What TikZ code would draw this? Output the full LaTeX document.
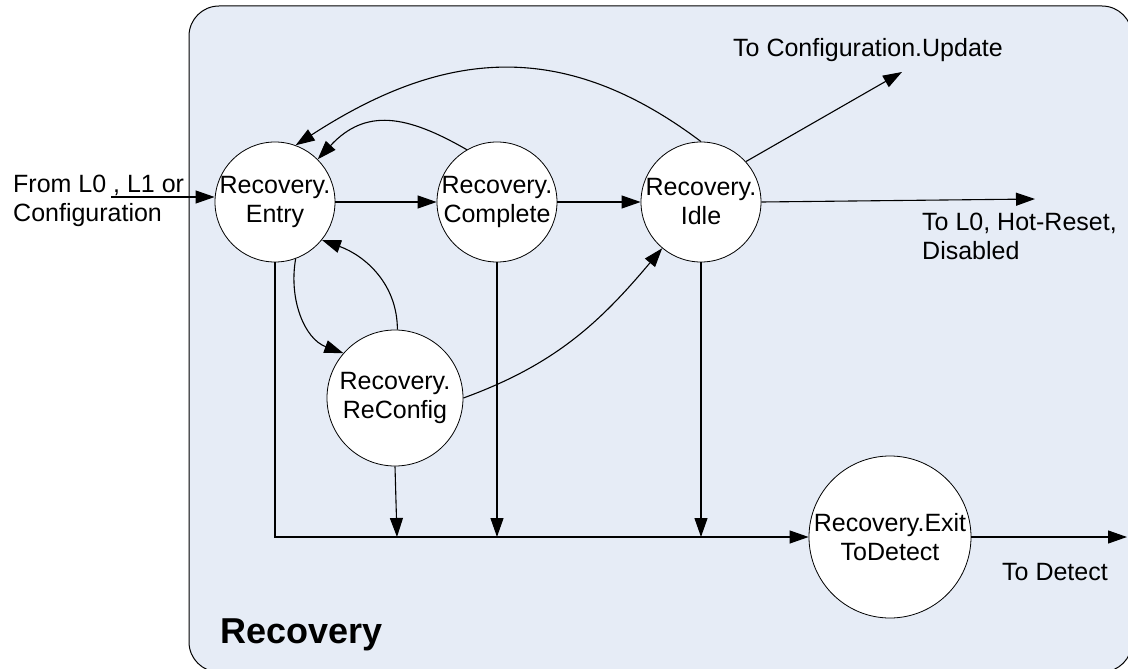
\documentclass[tikz,border=0pt]{standalone}
\usepackage{fontspec}
\setmainfont{Liberation Sans}
\usetikzlibrary{arrows.meta}
\definecolor{boxfill}{RGB}{230,236,246}

\begin{document}
\begin{tikzpicture}[x=1pt, y=1pt,
    every node/.style={font=\fontsize{25}{29}\selectfont},
    state/.style={circle, draw, line width=0.8pt, fill=white, inner sep=-8pt, minimum size=120pt, align=center},
    arr/.style={-{Triangle[length=19pt, width=13pt]}, line width=1.1pt}]

    \useasboundingbox (0,0) rectangle (1128,-669);

    % Recovery box
    \draw[line width=1pt, fill=boxfill, rounded corners=30pt] (189,-6) rectangle (1132,-672);
    \node[anchor=base west, inner sep=0pt, font=\fontsize{36}{42}\selectfont\bfseries] (boxname) at (220,-643) {Recovery};

    % states
    \node[state] (entry) at (275,-202) {Recovery.\\Entry};
    \node[state] (complete) at (497,-202) {Recovery.\\Complete};
    \node[state] (idle) at (701,-202) {Recovery.\\Idle};
    \node[state, minimum size=136pt] (reconfig) at (395,-398) {Recovery.\\ReConfig};
    \node[state, minimum size=162pt] (exit) at (890,-537) {Recovery.Exit\\ToDetect};

    % from outside
    \node[anchor=north west, align=left, inner sep=0pt] (fromtxt) at (13,-175) {From L0 , L1 or\\Configuration};
    \coordinate (fromin) at (111,-197);
    \draw[arr] (fromin) -- (fromin -| entry.west);

    % forward path
    \draw[arr] (entry.east) -- (complete.west);
    \draw[arr] (complete.east) -- (idle.west);

    % back to entry
    \draw[arr] (idle.90) to[out=143, in=33, looseness=1.1] (entry.70);
    \draw[arr] (complete.120) to[out=150, in=47, looseness=1.2] (entry.45);

    % reconfig
    \draw[arr] (entry.-70) to[out=-100, in=160] (reconfig.139);
    \draw[arr] (reconfig.88) to[out=90, in=-20] (entry.-39);
    \draw[arr] (reconfig.0) to[out=20, in=-130] (idle.-130);

    % to exit
    \coordinate (j1) at (397,-537);
    \coordinate (j2) at (497,-537);
    \coordinate (j3) at (701,-537);
    \draw[arr] (entry.south) |- (exit.west);
    \draw[arr] (reconfig.south) -- (j1);
    \draw[arr] (complete.south) -- (j2);
    \draw[arr] (idle.south) -- (j3);

    % leaving idle
    \coordinate (toupd) at (902,-72);
    \draw[arr] (idle.42) -- (toupd);
    \node[anchor=base west, inner sep=0pt] (updtxt) at (733,-57) {To Configuration.Update};

    \coordinate (tol0) at (1035,-199);
    \draw[arr] (idle.east) -- (tol0);
    \node[anchor=north west, align=left, inner sep=0pt] (l0txt) at (922,-213) {To L0, Hot-Reset,\\Disabled};

    % leaving exit
    \coordinate (todet) at (1127,-537);
    \draw[arr] (exit.east) -- (todet);
    \node[anchor=base west, inner sep=0pt] (dettxt) at (1002,-580) {To Detect};

\end{tikzpicture}
\end{document}
